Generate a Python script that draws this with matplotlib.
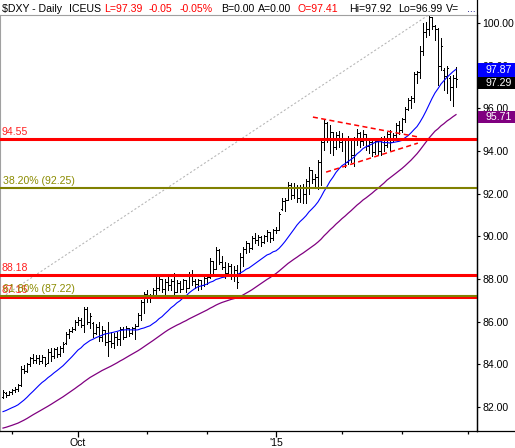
import matplotlib
matplotlib.use('Agg')
import matplotlib.pyplot as plt
import numpy as np
from matplotlib.lines import Line2D
from matplotlib.patches import Rectangle
from matplotlib.transforms import blended_transform_factory

plt.rcParams['font.family'] = ['Liberation Sans', 'DejaVu Sans']

# closes before the first bar (mid Jun - Aug 26 2014), only used for the moving averages
warmup = [80.60, 80.70, 80.45, 80.40, 80.40, 80.35, 80.30, 80.25, 80.10, 79.90,
          79.95, 80.15, 80.30, 80.35, 80.25, 80.20, 80.15, 80.10, 80.20, 80.35,
          80.55, 80.60, 80.70, 80.85, 80.95, 80.85, 80.95, 81.00, 81.05, 81.15,
          81.45, 81.50,
          81.35, 81.50, 81.65, 81.55, 81.60, 81.45, 81.40, 81.40, 81.55, 81.45,
          81.35, 81.70, 81.95, 82.05, 82.35, 82.30, 82.40, 82.45]

# daily bars, Aug 27 2014 - Mar 26 2015
opens = [82.45, 82.65, 82.55, 82.70, 82.80, 82.85, 83.05, 83.80, 83.70, 84.00,
         84.30, 84.20, 84.30, 84.15, 84.35, 84.05, 84.60, 84.40, 84.70, 84.50,
         84.75, 85.00, 85.40, 85.55, 85.65, 86.00, 86.10, 85.85, 86.60, 86.00,
         85.95, 85.45, 85.75, 85.30, 85.60, 85.05, 85.10, 85.00, 85.30, 85.20,
         85.65, 85.30, 85.70, 85.45, 85.70, 85.80, 86.30, 86.90, 87.30, 87.10,
         87.20, 87.50, 87.60, 88.00, 87.55, 87.85, 87.70, 87.90, 87.40, 87.80,
         87.55, 87.95, 87.60, 88.20, 87.90, 87.75, 87.95, 87.70, 88.05, 88.10,
         88.85, 88.45, 89.35, 88.80, 88.55, 88.30, 88.60, 88.15, 88.40, 88.30,
         89.05, 89.40, 89.70, 89.45, 89.90, 89.85, 89.95, 89.75, 90.00, 90.20,
         89.90, 90.30, 90.30, 91.30, 91.65, 91.70, 92.40, 91.95, 92.30, 91.80,
         92.25, 92.00, 92.60, 93.10, 92.70, 92.80, 93.50, 94.40, 95.30, 94.60,
         94.90, 94.20, 94.75, 94.40, 94.60, 93.50, 94.50, 93.80, 94.55, 94.85,
         94.45, 94.80, 94.25, 94.40, 93.95, 94.45, 94.00, 94.50, 94.30, 94.80,
         94.40, 94.75, 95.20, 95.00, 95.50, 95.95, 96.40, 96.50, 97.60, 97.70,
         98.70, 99.60, 99.70, 100.30, 99.85, 99.70, 98.00, 97.80, 97.50, 97.40,
         97.00, 97.41]
highs = [82.80, 82.70, 82.75, 82.85, 82.95, 83.10, 83.90, 83.95, 84.05, 84.35,
         84.50, 84.45, 84.45, 84.45, 84.35, 84.70, 84.75, 84.75, 84.80, 84.85,
         85.05, 85.50, 85.65, 85.75, 86.10, 86.20, 86.15, 86.70, 86.70, 86.40,
         86.00, 85.90, 86.00, 85.80, 85.60, 86.00, 85.50, 85.45, 85.50, 85.75,
         85.75, 85.80, 85.70, 85.75, 85.90, 86.40, 87.00, 87.40, 87.50, 87.30,
         87.60, 88.20, 88.10, 88.00, 88.00, 88.15, 88.00, 88.30, 87.95, 87.90,
         88.00, 87.95, 88.35, 88.40, 88.00, 88.00, 87.95, 88.10, 88.20, 89.00,
         88.85, 89.50, 89.40, 89.10, 88.80, 88.75, 88.70, 88.60, 88.65, 89.20,
         89.50, 89.80, 89.70, 90.00, 90.15, 90.05, 90.00, 90.05, 90.30, 90.20,
         90.35, 90.45, 91.15, 91.80, 91.80, 92.55, 92.50, 92.50, 92.40, 92.40,
         92.45, 92.70, 93.25, 93.10, 92.90, 93.60, 94.50, 95.45, 95.35, 95.20,
         94.90, 94.90, 94.95, 94.85, 94.60, 94.70, 94.50, 94.65, 95.05, 94.90,
         95.00, 94.80, 94.60, 94.50, 94.60, 94.55, 94.65, 94.70, 94.90, 95.00,
         94.85, 95.30, 95.40, 95.55, 96.05, 96.50, 96.60, 97.70, 97.75, 98.90,
         100.00, 100.05, 100.39, 100.30, 99.90, 99.75, 99.30, 97.90, 98.00, 97.50,
         97.55, 97.92]
lows = [82.40, 82.45, 82.55, 82.60, 82.70, 82.75, 83.00, 83.60, 83.65, 83.90,
        84.05, 84.05, 84.00, 84.05, 83.90, 84.05, 84.15, 84.30, 84.35, 84.40,
        84.60, 84.95, 85.25, 85.50, 85.60, 85.85, 85.75, 85.50, 85.90, 85.70,
        85.30, 85.40, 85.10, 85.10, 84.90, 84.40, 84.80, 84.75, 84.90, 84.90,
        85.20, 85.30, 85.35, 85.40, 85.20, 85.80, 86.10, 86.40, 86.90, 86.90,
        87.15, 87.25, 87.50, 87.40, 87.30, 87.50, 87.50, 87.25, 87.40, 87.40,
        87.55, 87.40, 87.60, 87.70, 87.60, 87.50, 87.55, 87.65, 87.75, 88.05,
        88.25, 88.45, 88.70, 88.45, 88.05, 88.20, 88.00, 87.90, 87.60, 88.20,
        88.60, 89.20, 89.25, 89.40, 89.70, 89.60, 89.55, 89.70, 89.80, 89.75,
        89.85, 90.15, 90.30, 91.25, 91.20, 91.70, 91.75, 91.80, 91.60, 91.60,
        91.55, 91.55, 92.00, 92.50, 92.30, 92.20, 92.40, 94.05, 94.40, 93.90,
        93.80, 94.10, 94.20, 94.00, 93.25, 93.40, 93.50, 93.30, 94.30, 94.20,
        94.30, 94.05, 93.90, 93.75, 93.85, 93.80, 93.80, 94.00, 94.20, 94.05,
        94.40, 94.60, 94.80, 94.90, 95.35, 95.90, 96.00, 96.30, 97.20, 97.40,
        98.50, 99.35, 99.45, 99.70, 99.20, 97.10, 97.80, 96.85, 96.70, 96.40,
        96.10, 96.99]
closes = [82.70, 82.55, 82.70, 82.80, 82.85, 83.05, 83.80, 83.70, 84.00, 84.30,
          84.20, 84.30, 84.15, 84.35, 84.00, 84.60, 84.40, 84.70, 84.50, 84.75,
          84.95, 85.40, 85.55, 85.65, 86.00, 86.10, 85.85, 86.60, 86.00, 86.25,
          85.45, 85.75, 85.30, 85.60, 85.05, 85.10, 85.00, 85.30, 85.20, 85.65,
          85.30, 85.70, 85.45, 85.70, 85.80, 86.30, 86.90, 87.30, 87.10, 87.20,
          87.50, 87.60, 88.00, 87.55, 87.85, 87.70, 87.90, 87.40, 87.80, 87.55,
          87.95, 87.60, 88.20, 87.90, 87.75, 87.95, 87.70, 88.05, 88.10, 88.85,
          88.45, 89.35, 88.80, 88.55, 88.30, 88.60, 88.15, 88.40, 87.85, 89.05,
          89.40, 89.70, 89.45, 89.90, 89.85, 89.95, 89.75, 90.00, 90.20, 89.90,
          90.30, 90.30, 91.05, 91.65, 91.70, 92.40, 91.95, 92.30, 91.80, 92.25,
          92.00, 92.60, 93.10, 92.70, 92.80, 93.50, 94.40, 95.30, 94.60, 94.90,
          94.20, 94.75, 94.40, 94.60, 93.50, 94.50, 93.80, 94.55, 94.85, 94.45,
          94.80, 94.25, 94.40, 93.95, 94.45, 94.00, 94.50, 94.30, 94.80, 94.40,
          94.75, 95.20, 95.00, 95.50, 95.95, 96.40, 96.50, 97.60, 97.70, 98.70,
          99.60, 99.70, 100.30, 99.85, 99.70, 98.00, 98.90, 97.50, 97.90, 97.00,
          97.40, 97.39]

# month ticks (bar index of first trading day), only Oct and '15 labelled
month_ticks = [3, 48, 68, 113, 133, 155]
label_ticks = [25, 91]
label_names = ['Oct', "'15"]

# horizontal annotation lines
red_levels = [94.55, 88.18, 87.16]
fib_levels = [92.25, 87.22]
fib_names = ['38.20%', '61.80%']
fib_low = (-87, 79.08)
fib_high = (142, 100.39)

# triangle trendlines (bar index, price)
tri_upper = ([103.3, 138.3], [95.59, 94.66])
tri_lower = ([107.7, 138.3], [93.01, 94.37])

# last values shown in boxes on the price axis
box_values = ['97.87', '97.29', '95.71']
box_colors = ['#0000ff', '#000000', '#800080']

W, H = 515, 448
fig = plt.figure(figsize=(W / 100, H / 100), dpi=100)
fig.patch.set_facecolor('white')
ax = fig.add_axes([0, 17 / H, 477 / W, 416 / H])

x = np.arange(len(closes))
full = np.array(warmup + closes)
ma20 = np.convolve(full, np.ones(20) / 20, mode='valid')[-len(closes):]
ma50 = np.convolve(full, np.ones(50) / 50, mode='valid')[-len(closes):]

# fib trend line (dotted grey)
ax.plot([fib_low[0], fib_high[0]], [fib_low[1], fib_high[1]], color='#b4b4b4',
        lw=0.75, ls=(0, (2, 2)), zorder=1)

# OHLC bars, 1 px wide with 1 px open/close ticks
ax.vlines(x, lows, highs, color='black', lw=0.72, antialiased=False, zorder=2)
ax.hlines(opens, x - 0.34, x, color='black', lw=0.72, antialiased=False, zorder=2)
ax.hlines(closes, x, x + 0.34, color='black', lw=0.72, antialiased=False, zorder=2)

ax.plot(x, ma20, color='#0000ff', lw=0.8, zorder=3)
ax.plot(x, ma50, color='#800080', lw=0.9, zorder=3)

# horizontal levels
for lv in red_levels:
    ax.axhline(lv, color='#ff0000', lw=2.2, zorder=4)
    ax.text(-0.35, lv + 0.19, '%.2f' % lv, color='#ff2020', fontsize=7.6,
            va='baseline', ha='left', zorder=5)
for lv, nm in zip(fib_levels, fib_names):
    ax.axhline(lv, color='#808000', lw=1.5, zorder=4.5)
    ax.text(0.0, lv + 0.19, '%s (%.2f)' % (nm, lv), color='#8b8b00', fontsize=7.6,
            va='baseline', ha='left', zorder=5)

ax.plot(tri_upper[0], tri_upper[1], color='#ff0000', lw=1.1, ls=(0, (3.3, 2.2)), zorder=5)
ax.plot(tri_lower[0], tri_lower[1], color='#ff0000', lw=1.1, ls=(0, (3.3, 2.2)), zorder=5)

ax.set_xlim(-1, 158)
ax.set_ylim(80.875, 100.375)

# axes style
for s in ['top', 'left']:
    ax.spines[s].set_color('#a0a0a0')
    ax.spines[s].set_linewidth(0.8)
for s in ['right', 'bottom']:
    ax.spines[s].set_color('black')
    ax.spines[s].set_linewidth(0.9)

ax.yaxis.tick_right()
ax.set_yticks(np.arange(82, 101, 2))
ax.set_yticklabels(['%.2f' % v for v in np.arange(82, 101, 2)])
ax.tick_params(axis='y', length=2.5, width=0.8, pad=1.5, labelsize=7.6, colors='black')

ax.set_xticks(label_ticks)
ax.set_xticklabels(label_names)
ax.set_xticks(month_ticks, minor=True)
ax.tick_params(axis='x', which='major', length=4.5, width=0.9, pad=0.5, labelsize=7.6,
               colors='black')
ax.tick_params(axis='x', which='minor', length=2.3, width=0.9)

# right axis line up into the header, bottom line out to the edge
fig.add_artist(Line2D([477 / W, 477 / W], [17 / H, 1], color='black', lw=0.9))
fig.add_artist(Line2D([477 / W, 1], [17 / H, 17 / H], color='black', lw=0.9))

# value boxes on the price axis
tb = blended_transform_factory(fig.transFigure, fig.transFigure)
box_tops = [63.5, 77, 111.5]
box_h = [13.5, 12, 12]
for val, col, top, hh in zip(box_values, box_colors, box_tops, box_h):
    r = Rectangle((478 / W, 1 - (top + hh) / H), 37 / W, hh / H, transform=tb,
                  facecolor=col, edgecolor='none', zorder=10)
    fig.add_artist(r)
    fig.text(485 / W, 1 - (top + hh / 2) / H, val, color='white', fontsize=7.6,
             va='center', ha='left', zorder=11)

# header line
header = [(2, '$DXY - Daily', 'black'), (69, 'ICEUS', 'black'),
          (104, 'L=97.39', '#ff0000'), (149, '-0.05', '#ff0000'),
          (180, '-0.05%', '#ff0000'), (221, 'B=0.00', 'black'),
          (258, 'A=0.00', 'black'), (298, 'O=97.41', '#ff0000'),
          (349, 'Hi=97.92', 'black'), (398, 'Lo=96.99', 'black'),
          (446, 'V=', 'black'), (467, '...', '#000080')]
for px, t, c in header:
    fig.text(px / W, 1 - 12.5 / H, t, color=c, fontsize=7.6, va='baseline', ha='left')

fig.savefig('out.png', dpi=100, facecolor='white')
